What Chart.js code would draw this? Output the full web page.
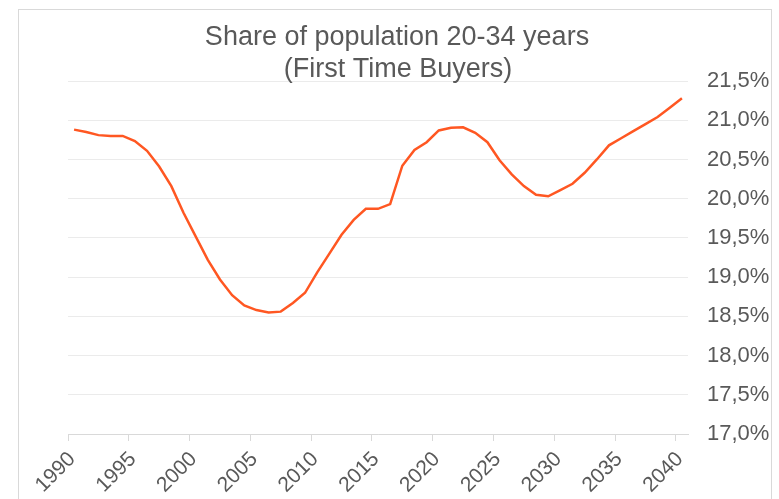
<!DOCTYPE html>
<html lang="en">
<head>
<meta charset="UTF-8">
<title>Share of population 20-34 years</title>
<script src="https://cdn.jsdelivr.net/npm/chart.js@4"></script>
<style>
html,body{margin:0;padding:0;background:#fff;overflow:hidden}
.frame{position:absolute;left:18px;top:9px;width:754px;height:520px;border:1px solid #d9d9d9;box-sizing:border-box}
.wrap{position:absolute;left:0;top:0;width:779px;height:499px}
</style>
</head>
<body>
<div class="frame"></div>
<div class="wrap"><canvas id="chart" width="779" height="499"></canvas></div>
<script>
const titleLines = ['Share of population 20-34 years', '(First Time Buyers)'];

const years = [
  1990, 1991, 1992, 1993, 1994, 1995, 1996, 1997, 1998, 1999,
  2000, 2001, 2002, 2003, 2004, 2005, 2006, 2007, 2008, 2009,
  2010, 2011, 2012, 2013, 2014, 2015, 2016, 2017, 2018, 2019,
  2020, 2021, 2022, 2023, 2024, 2025, 2026, 2027, 2028, 2029,
  2030, 2031, 2032, 2033, 2034, 2035, 2036, 2037, 2038, 2039,
  2040
];

// share in %
const share = [
  20.88, 20.85, 20.81, 20.80, 20.80, 20.735, 20.61, 20.41, 20.16, 19.82,
  19.52, 19.22, 18.97, 18.77, 18.64, 18.58, 18.55, 18.56, 18.67, 18.80,
  19.06, 19.30, 19.54, 19.73, 19.87, 19.87, 19.93, 20.42, 20.62, 20.72,
  20.87, 20.905, 20.91, 20.84, 20.72, 20.49, 20.31, 20.16, 20.05, 20.03,
  20.11, 20.19, 20.33, 20.50, 20.68, 20.77, 20.86, 20.95, 21.04, 21.16,
  21.28
];

const yMin = 17.0, yMax = 21.5, yStep = 0.5;
const labelEvery = 5;

const textGrey = '#595959';

const titlePlugin = {
  id: 'fixedTitle',
  afterDraw(chart) {
    const ctx = chart.ctx;
    ctx.save();
    ctx.font = '27px "Liberation Sans", Arial, sans-serif';
    ctx.fillStyle = textGrey;
    ctx.textAlign = 'center';
    ctx.textBaseline = 'alphabetic';
    ctx.fillText(titleLines[0], 397, 45);
    ctx.fillText(titleLines[1], 398, 77);
    ctx.restore();
  }
};

new Chart(document.getElementById('chart'), {
  type: 'line',
  data: {
    labels: years,
    datasets: [{
      data: share,
      borderColor: '#ff5722',
      borderWidth: 2.5,
      pointRadius: 0,
      tension: 0,
      fill: false
    }]
  },
  options: {
    responsive: false,
    animation: false,
    layout: { padding: { left: 68, top: 81, right: 0, bottom: 0 } },
    plugins: { legend: { display: false }, tooltip: { enabled: false }, title: { display: false } },
    scales: {
      x: {
        type: 'category',
        offset: true,
        grid: {
          offset: true,
          drawOnChartArea: false,
          drawTicks: true,
          tickLength: 7,
          color: ctx => (ctx.index !== undefined && ctx.index % labelEvery === 0) ? '#d9d9d9' : 'transparent'
        },
        border: { display: true, color: '#d9d9d9' },
        ticks: {
          autoSkip: false,
          maxRotation: 45,
          minRotation: 45,
          padding: 6,
          labelOffset: -2,
          color: textGrey,
          font: { family: '"Liberation Sans", Arial, sans-serif', size: 21 },
          callback: (v, i) => i % labelEvery === 0 ? String(years[i]) : ''
        },
        afterFit: s => { s.height = 65; }
      },
      y: {
        position: 'right',
        min: yMin,
        max: yMax,
        grid: { color: '#ebebeb', drawTicks: false },
        border: { display: false },
        ticks: {
          stepSize: yStep,
          padding: 19,
          color: textGrey,
          font: { family: '"Liberation Sans", Arial, sans-serif', size: 22 },
          callback: v => v.toFixed(1).replace('.', ',') + '%'
        },
        afterFit: s => { s.width = 91; }
      }
    }
  },
  plugins: [titlePlugin]
});
</script>
</body>
</html>
